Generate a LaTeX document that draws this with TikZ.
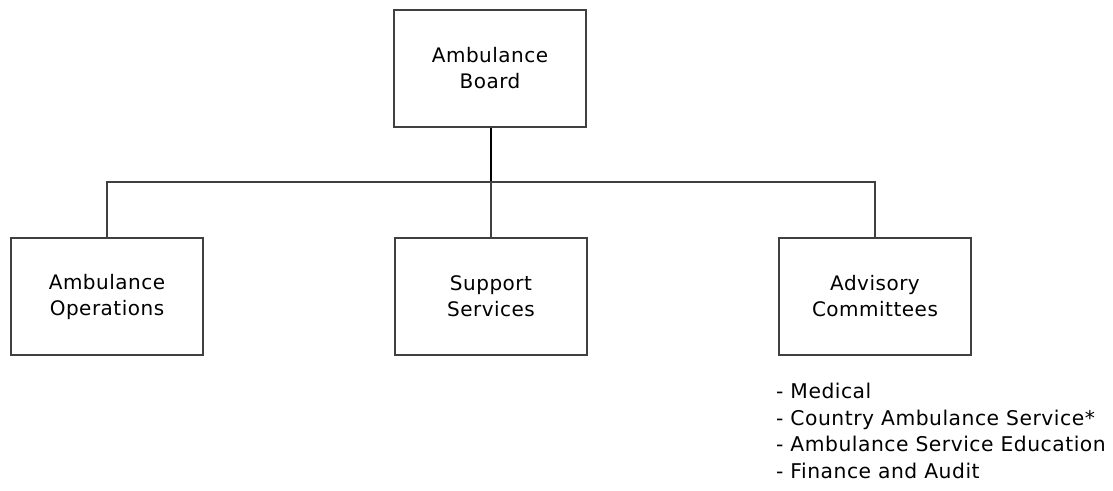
\documentclass[tikz,border=0pt]{standalone}
\usepackage{fontspec}
\setmainfont[LetterSpace=2.5]{DejaVu Sans}
\begin{document}
\begin{tikzpicture}[x=1pt,y=-1pt,
  unitbox/.style={draw=black!75, line width=1.2pt, fill=white,
    minimum width=192pt, minimum height=117pt, inner sep=0pt,
    align=center, font=\fontsize{20}{26}\selectfont},
  link/.style={draw=black!75, line width=1.2pt},
  trunk/.style={draw=black, line width=2pt}]
  \useasboundingbox (0,0) rectangle (1113,490);

  % organisation units
  \node[unitbox] (board) at (490,68.5) {Ambulance\\Board};
  \node[unitbox] (ops) at (107,296.5) {Ambulance\\Operations};
  \node[unitbox] (sup) at (491,296.5) {Support\\Services};
  \node[unitbox] (adv) at (875,296.5) {Advisory\\Committees};

  % branching point of the reporting lines
  \coordinate (junction) at (491,182);

  \draw[trunk] (board.south -| junction) -- (junction);
  \draw[link] (ops.north) |- (junction) -| (adv.north);
  \draw[link] (junction) -- (sup.north);

  % committees under the advisory unit
  \node[anchor=north west, align=left, inner sep=0pt,
        font=\fontsize{20.3}{26.5}\selectfont] (list) at (776,383)
    {- Medical\\
     - Country Ambulance Service*\\
     - Ambulance Service Education\\
     - Finance and Audit};
\end{tikzpicture}
\end{document}
